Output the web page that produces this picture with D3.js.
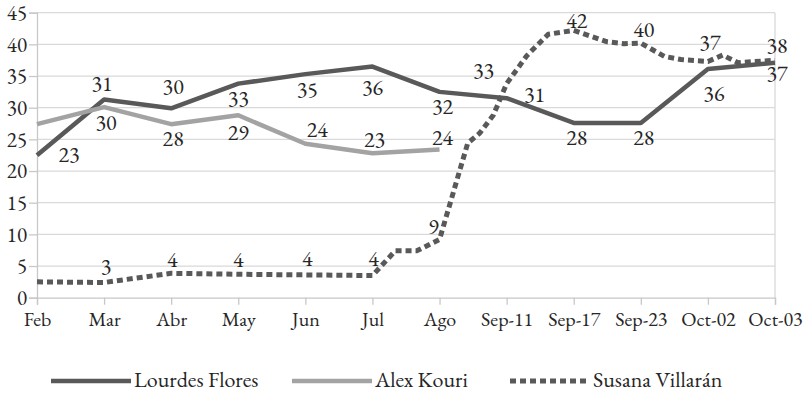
<!DOCTYPE html>
<html>
<head>
<meta charset="utf-8">
<script src="https://cdn.jsdelivr.net/npm/d3@7"></script>
<style>
  html, body { margin: 0; padding: 0; background: #fff; }
  #wrap { position: relative; width: 804px; height: 400px; }
  svg { display: block; position: absolute; left: 0; top: 0; }
  .legtxt { position: absolute; font-family: "EB Garamond", "Liberation Serif", serif; font-size: 22px; color: #262626; line-height: 22px; white-space: nowrap; }
</style>
</head>
<body>
<div id="wrap"><svg id="chart" width="804" height="400"></svg></div>
<script>
// ---------- data ----------
const categories = ["Feb","Mar","Abr","May","Jun","Jul","Ago","Sep-11","Sep-17","Sep-23","Oct-02","Oct-03"];
const yTicks = [0,5,10,15,20,25,30,35,40,45];

const floresValues = [22.5,31.3,29.9,33.8,35.3,36.5,32.5,31.5,27.6,27.6,36.1,37.1];
const floresLabels = [23,31,30,33,35,36,32,31,28,28,36,37];

const kouriValues = [27.4,30.1,27.4,28.8,24.3,22.8,23.4];
const kouriLabels = [null,30,28,29,24,23,24];

// Villarán series has extra intermediate readings between the labelled dates
const villaranPos = [0,1,2,3,4,5,5.34,5.66,6,6.42,6.6,6.8,7,7.3,7.62,8,8.5,8.75,9,9.35,9.6,10,10.22,10.45,11];
const villaranValues = [2.5,2.4,3.85,3.7,3.6,3.5,7.4,7.4,9.2,24.4,26,28.8,33.8,38.2,41.6,42.2,40.4,40.1,40.2,38.1,37.6,37.3,38.3,37.1,37.5];
const villaranLabels = [null,3,4,4,4,4,9,33,42,40,37,38];

const seriesNames = ["Lourdes Flores","Alex Kouri","Susana Villarán"];

// ---------- layout / style ----------
const FONT = '"EB Garamond"';
const TXT = "#262626";
const plot = {left: 37, right: 775, top: 12.7, bottom: 297.7};
const styles = [
  {color: "#595959", width: 4.5, dash: null},
  {color: "#a3a3a3", width: 4.5, dash: null},
  {color: "#595959", width: 5, dash: "6,4"}
];
// label offsets (dx, dy) relative to the point
const floresOff = [[32,-1],[-2,-16],[2,-22],[0,15],[2,15],[0,21],[3,14],[28,-4],[3,14],[3,14],[6,24],[2,11]];
const kouriOff  = [null,[2,15],[2,14],[0,17],[12,-15],[2,-14],[3,-12]];
const villOff   = [null,[2,-16],[1,-14],[0,-15],[2,-17],[1,-17],[-6,-13],[-23,-13],[3,-10],[3,-14],[2,-19],[2,-15]];
// legend entry start x (swatch), swatch length
const legendStart = [51, 292, 510];
const legendSwatch = 80;
const legY = 381;

const svg = d3.select("#chart");

const x = d3.scaleLinear().domain([0, categories.length - 1]).range([plot.left, plot.right]);
const y = d3.scaleLinear().domain([0, 45]).range([plot.bottom, plot.top]);

// gridlines
svg.append("g").selectAll("line").data(yTicks.filter(d => d > 0)).join("line")
  .attr("x1", plot.left).attr("x2", plot.right)
  .attr("y1", d => y(d)).attr("y2", d => y(d))
  .attr("stroke", "#d9d9d9").attr("stroke-width", 1.3);

// right border
svg.append("line")
  .attr("x1", plot.right).attr("x2", plot.right)
  .attr("y1", y(45)).attr("y2", y(0))
  .attr("stroke", "#d9d9d9").attr("stroke-width", 1.3);

// y axis
const yAxis = svg.append("g").attr("transform", `translate(${plot.left},0)`)
  .call(d3.axisLeft(y).tickValues(yTicks).tickSize(8).tickPadding(2).tickFormat(d3.format("d")));
yAxis.select(".domain").attr("stroke", "#c8c8c8").attr("stroke-width", 1.3);
yAxis.selectAll(".tick line").attr("stroke", "#c8c8c8").attr("stroke-width", 1.3);
yAxis.selectAll(".tick text").style("font-family", FONT).style("font-size", "21px").style("fill", TXT);

// x axis
const xAxis = svg.append("g").attr("transform", `translate(0,${plot.bottom})`)
  .call(d3.axisBottom(x).tickValues(d3.range(categories.length)).tickSize(7).tickPadding(7)
    .tickFormat(i => categories[i]));
xAxis.select(".domain").attr("stroke", "#c8c8c8").attr("stroke-width", 1.3);
xAxis.selectAll(".tick line").attr("stroke", "#c8c8c8").attr("stroke-width", 1.3);
xAxis.selectAll(".tick text").style("font-family", FONT).style("font-size", "20px").style("fill", TXT);

// lines
const line = d3.line().x(d => x(d[0])).y(d => y(d[1])).curve(d3.curveLinear);
const floresPts = floresValues.map((v, i) => [i, v]);
const kouriPts = kouriValues.map((v, i) => [i, v]);
const villPts = villaranPos.map((p, i) => [p, villaranValues[i]]);
const allPts = [floresPts, kouriPts, villPts];

allPts.forEach((pts, k) => {
  svg.append("path").datum(pts)
    .attr("d", line)
    .attr("fill", "none")
    .attr("stroke", styles[k].color)
    .attr("stroke-width", styles[k].width)
    .attr("stroke-linejoin", "round")
    .attr("stroke-dasharray", styles[k].dash);
});

// labels
function villAt(i) {
  return villaranValues[villaranPos.indexOf(i)];
}
const labelSets = [
  {labels: floresLabels, val: i => floresValues[i], off: floresOff},
  {labels: kouriLabels, val: i => kouriValues[i], off: kouriOff},
  {labels: villaranLabels, val: i => villAt(i), off: villOff}
];
const lg = svg.append("g");
labelSets.forEach(s => {
  s.labels.forEach((lab, i) => {
    if (lab == null) return;
    const o = s.off[i];
    lg.append("text")
      .attr("x", x(i) + o[0])
      .attr("y", y(s.val(i)) + o[1])
      .attr("dy", "0.35em")
      .attr("text-anchor", "middle")
      .style("font-family", FONT).style("font-size", "22px").style("fill", TXT)
      .text(lab);
  });
});

// legend swatches (SVG) and names (HTML)
const leg = svg.append("g");
leg.selectAll("line").data(seriesNames).join("line")
  .attr("x1", (d, k) => legendStart[k]).attr("x2", (d, k) => legendStart[k] + legendSwatch)
  .attr("y1", legY).attr("y2", legY)
  .attr("stroke", (d, k) => styles[k].color)
  .attr("stroke-width", (d, k) => styles[k].width)
  .attr("stroke-dasharray", (d, k) => styles[k].dash);
d3.select("#wrap").selectAll("div.legtxt").data(seriesNames).join("div")
  .attr("class", "legtxt")
  .style("left", (d, k) => (legendStart[k] + legendSwatch + 3) + "px")
  .style("top", (legY - 12) + "px")
  .text(d => d);
</script>
</body>
</html>
